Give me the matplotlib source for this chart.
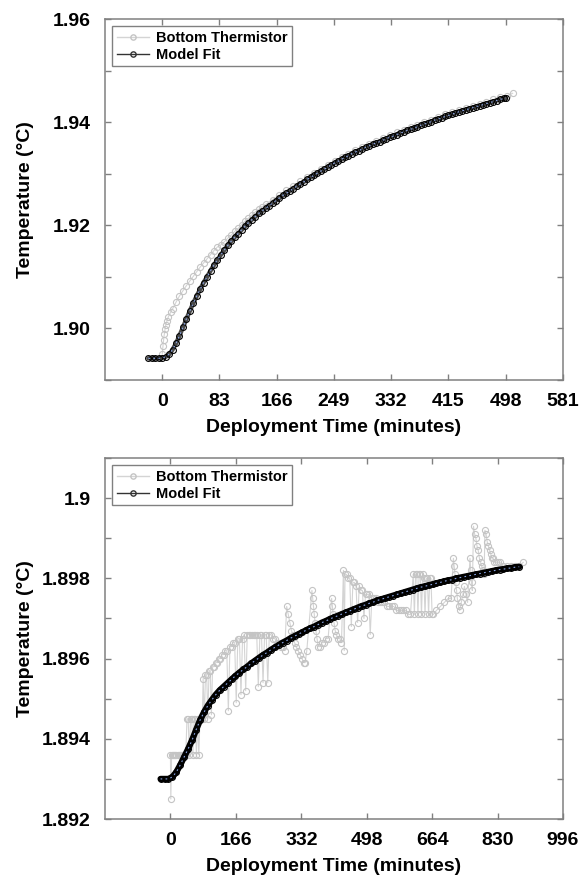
import matplotlib.pyplot as plt
from matplotlib.lines import Line2D
from matplotlib.ticker import FixedLocator, FixedFormatter, MultipleLocator

plt.rcParams['font.family'] = ['Liberation Sans', 'DejaVu Sans']
plt.rcParams['font.weight'] = 'bold'
plt.rcParams['axes.labelweight'] = 'bold'

# upper run: thermistor readings and fitted decay
top_therm_t = [0, 1, 2, 3, 4, 5, 7, 9, 12, 15, 20, 25, 30, 35, 40, 45, 50, 55, 60, 65, 70, 75, 80, 85,
               90, 95, 100, 105, 110, 115, 120, 125, 130, 135, 140, 145, 150, 160, 170, 180, 190, 200,
               210, 220, 230, 240, 250, 260, 270, 280, 290, 300, 310, 320, 330, 340, 350, 360, 370,
               380, 390, 400, 410, 420, 430, 440, 450, 460, 470, 480, 490, 500, 508]
top_therm_T = [1.8950, 1.8965, 1.8978, 1.8989, 1.8998, 1.9006, 1.9015, 1.9023, 1.9031, 1.9038, 1.9051,
               1.9063, 1.9073, 1.9083, 1.9092, 1.9101, 1.9110, 1.9119, 1.9127, 1.9135, 1.9143, 1.9151,
               1.9158, 1.9162, 1.9168, 1.9175, 1.9181, 1.9188, 1.9194, 1.9201, 1.9208, 1.9214, 1.9220,
               1.9226, 1.9231, 1.9236, 1.9241, 1.9250, 1.9259, 1.9268, 1.9277, 1.9285, 1.9293, 1.9301,
               1.9309, 1.9317, 1.9325, 1.9332, 1.9339, 1.9346, 1.9352, 1.9358, 1.9364, 1.9369, 1.9375,
               1.9380, 1.9385, 1.9390, 1.9395, 1.9400, 1.9405, 1.9410, 1.9415, 1.9419, 1.9424, 1.9428,
               1.9432, 1.9436, 1.9440, 1.9444, 1.9448, 1.9451, 1.9456]
top_fit_t = [-20, -15, -10, -5, 0, 5, 10, 15, 20, 25, 30, 35, 40, 45, 50, 55, 60, 65, 70, 75, 80, 85,
             90, 95, 100, 105, 110, 115, 120, 125, 130, 135, 140, 145, 150, 155, 160, 165, 170, 175,
             180, 185, 190, 195, 200, 205, 210, 215, 220, 225, 230, 235, 240, 245, 250, 255, 260, 265,
             270, 275, 280, 285, 290, 295, 300, 305, 310, 315, 320, 325, 330, 335, 340, 345, 350, 355,
             360, 365, 370, 375, 380, 385, 390, 395, 400, 405, 410, 415, 420, 425, 430, 435, 440, 445,
             450, 455, 460, 465, 470, 475, 480, 485, 490, 495, 498]
top_fit_T = [1.8942, 1.8942, 1.8942, 1.8942, 1.8943, 1.8945, 1.8950, 1.8959, 1.8971, 1.8986, 1.9002,
             1.9018, 1.9034, 1.9049, 1.9063, 1.9076, 1.9089, 1.9100, 1.9112, 1.9123, 1.9133, 1.9143,
             1.9152, 1.9161, 1.9169, 1.9177, 1.9184, 1.9191, 1.9198, 1.9205, 1.9211, 1.9217, 1.9223,
             1.9228, 1.9233, 1.9238, 1.9243, 1.9248, 1.9253, 1.9258, 1.9262, 1.9267, 1.9271, 1.9276,
             1.9280, 1.9284, 1.9289, 1.9293, 1.9297, 1.9301, 1.9305, 1.9309, 1.9313, 1.9317, 1.9321,
             1.9324, 1.9328, 1.9332, 1.9335, 1.9339, 1.9342, 1.9345, 1.9348, 1.9351, 1.9354, 1.9357,
             1.9360, 1.9362, 1.9365, 1.9368, 1.9371, 1.9373, 1.9376, 1.9379, 1.9381, 1.9384, 1.9386,
             1.9389, 1.9391, 1.9394, 1.9396, 1.9399, 1.9401, 1.9404, 1.9406, 1.9408, 1.9411, 1.9413,
             1.9415, 1.9418, 1.9420, 1.9422, 1.9424, 1.9426, 1.9428, 1.9430, 1.9432, 1.9434, 1.9436,
             1.9438, 1.9440, 1.9442, 1.9444, 1.9446, 1.9447]

# lower run: noisy thermistor record (time, temperature) and fitted decay
bot_therm = [
    (0, 1.8936), (1, 1.8925), (3, 1.8936), (6, 1.8936), (9, 1.8936), (12, 1.8936), (15, 1.8936),
    (18, 1.8936), (21, 1.8936), (24, 1.8936), (27, 1.8936), (30, 1.8936), (33, 1.8936), (36, 1.8936),
    (39, 1.8936), (42, 1.8945), (45, 1.8945), (48, 1.8936), (51, 1.8945), (54, 1.8945), (57, 1.8936),
    (60, 1.8945), (63, 1.8945), (66, 1.8936), (69, 1.8945), (72, 1.8936), (75, 1.8945), (78, 1.8945),
    (81, 1.8945), (83, 1.8955), (86, 1.8945), (89, 1.8956), (92, 1.8956), (95, 1.8945), (98, 1.8957),
    (101, 1.8957), (104, 1.8946), (107, 1.8958), (111, 1.8958), (115, 1.8959), (119, 1.8959),
    (123, 1.8960), (127, 1.8960), (131, 1.8961), (135, 1.8961), (139, 1.8962), (143, 1.8962),
    (147, 1.8947), (151, 1.8963), (155, 1.8963), (159, 1.8964), (163, 1.8964), (167, 1.8949),
    (171, 1.8965), (175, 1.8965), (179, 1.8951), (183, 1.8965), (187, 1.8966), (191, 1.8952),
    (195, 1.8966), (199, 1.8966), (203, 1.8966), (207, 1.8966), (211, 1.8966), (215, 1.8966),
    (219, 1.8966), (223, 1.8953), (227, 1.8966), (231, 1.8966), (235, 1.8954), (239, 1.8966),
    (243, 1.8966), (247, 1.8954), (251, 1.8966), (255, 1.8966), (260, 1.8965), (265, 1.8965),
    (270, 1.8964), (275, 1.8964), (280, 1.8963), (285, 1.8963), (290, 1.8962),
    (295, 1.8973), (299, 1.8971), (303, 1.8969), (307, 1.8967), (311, 1.8966), (315, 1.8964),
    (319, 1.8963), (324, 1.8962), (329, 1.8961), (334, 1.8960), (338, 1.8959), (342, 1.8959),
    (346, 1.8962),
    (359, 1.8977), (361, 1.8975), (363, 1.8973), (365, 1.8971), (367, 1.8969), (369, 1.8967),
    (372, 1.8965), (375, 1.8963), (380, 1.8963), (385, 1.8964), (390, 1.8964), (395, 1.8965),
    (400, 1.8965),
    (409, 1.8975), (411, 1.8973), (413, 1.8971), (415, 1.8969), (418, 1.8967), (421, 1.8966),
    (425, 1.8965), (430, 1.8965), (434, 1.8964),
    (439, 1.8982), (441, 1.8962), (443, 1.8981), (447, 1.8981), (451, 1.8980), (455, 1.8980),
    (459, 1.8968), (463, 1.8979), (467, 1.8979), (471, 1.8978), (475, 1.8969), (479, 1.8978),
    (483, 1.8977), (487, 1.8977), (491, 1.8970), (495, 1.8976), (499, 1.8976), (503, 1.8976),
    (507, 1.8966), (511, 1.8975), (516, 1.8975), (521, 1.8975), (526, 1.8974), (531, 1.8974),
    (537, 1.8974), (543, 1.8974), (549, 1.8973), (555, 1.8973), (561, 1.8973), (567, 1.8973),
    (573, 1.8972), (579, 1.8972), (585, 1.8972), (591, 1.8972), (597, 1.8972), (603, 1.8971),
    (609, 1.8971),
    (616, 1.8981), (619, 1.8971), (622, 1.8981), (625, 1.8981), (628, 1.8971), (631, 1.8981),
    (634, 1.8981), (637, 1.8971), (640, 1.8981), (643, 1.8980), (646, 1.8971), (649, 1.8980),
    (652, 1.8980), (655, 1.8971), (658, 1.8980), (661, 1.8980), (664, 1.8971), (667, 1.8971),
    (675, 1.8972), (685, 1.8973), (695, 1.8974), (705, 1.8975), (712, 1.8975),
    (718, 1.8985), (720, 1.8983), (722, 1.8981), (724, 1.8979), (726, 1.8977), (728, 1.8975),
    (731, 1.8973), (734, 1.8972), (738, 1.8974), (742, 1.8976), (746, 1.8978), (750, 1.8976),
    (754, 1.8974),
    (760, 1.8985), (762, 1.8982), (764, 1.8979), (766, 1.8977),
    (769, 1.8993), (772, 1.8991), (775, 1.8990), (778, 1.8988), (781, 1.8987), (784, 1.8985),
    (787, 1.8984), (790, 1.8983), (793, 1.8982), (796, 1.8981),
    (798, 1.8992), (801, 1.8991), (804, 1.8989), (807, 1.8988), (810, 1.8987), (813, 1.8986),
    (816, 1.8985), (819, 1.8985), (822, 1.8984), (826, 1.8984), (830, 1.8984), (836, 1.8984),
    (845, 1.8983), (855, 1.8983), (865, 1.8983), (875, 1.8983), (885, 1.8983), (895, 1.8984),
]
bot_fit_t = [-25, -15, -5, 5, 15, 25, 35, 45, 55, 65, 75, 85, 95, 105, 115, 125, 135, 145, 155, 165,
             175, 185, 195, 205, 215, 225, 235, 245, 255, 265, 275, 285, 295, 305, 315, 325, 335, 345,
             355, 365, 375, 385, 395, 405, 415, 425, 435, 445, 455, 465, 475, 485, 495, 505, 515, 525,
             535, 545, 555, 565, 575, 585, 595, 605, 615, 625, 635, 645, 655, 665, 675, 685, 695, 705,
             715, 725, 735, 745, 755, 765, 775, 785, 795, 805, 815, 825, 835, 845, 855, 865, 875, 885]
bot_fit_T = [1.89300, 1.89300, 1.89300, 1.89305, 1.89317, 1.89335, 1.89355, 1.89375, 1.89397, 1.89422,
             1.89446, 1.89466, 1.89483, 1.89497, 1.89510, 1.89521, 1.89530, 1.89539, 1.89548, 1.89557,
             1.89565, 1.89573, 1.89580, 1.89588, 1.89595, 1.89602, 1.89609, 1.89615, 1.89622, 1.89628,
             1.89634, 1.89640, 1.89645, 1.89651, 1.89656, 1.89661, 1.89666, 1.89671, 1.89676, 1.89680,
             1.89685, 1.89690, 1.89694, 1.89699, 1.89703, 1.89707, 1.89711, 1.89715, 1.89719, 1.89723,
             1.89727, 1.89731, 1.89734, 1.89738, 1.89741, 1.89745, 1.89748, 1.89751, 1.89754, 1.89757,
             1.89760, 1.89763, 1.89766, 1.89769, 1.89772, 1.89775, 1.89778, 1.89780, 1.89783, 1.89785,
             1.89788, 1.89790, 1.89793, 1.89795, 1.89797, 1.89800, 1.89802, 1.89804, 1.89806, 1.89808,
             1.89810, 1.89812, 1.89814, 1.89816, 1.89818, 1.89820, 1.89822, 1.89823, 1.89825, 1.89826,
             1.89828, 1.89829]

top_xticks = [0, 83, 166, 249, 332, 415, 498, 581]
top_yticks = [1.90, 1.92, 1.94, 1.96]
top_ylabels = ['1.90', '1.92', '1.94', '1.96']
bot_xticks = [0, 166, 332, 498, 664, 830, 996]
bot_yticks = [1.892, 1.894, 1.896, 1.898, 1.900]
bot_ylabels = ['1.892', '1.894', '1.896', '1.898', '1.9']

THERM = '#d4d4d4'
FRAME = '#808080'


def draw_run(ax, therm_t, therm_T, fit_t, fit_T, band, band_color):
    ax.plot(therm_t, therm_T, '-o', color=THERM, lw=0.8, ms=4.4, mfc='none',
            mec='#c4c4c4', mew=0.8, zorder=2)
    # wide line under the fit markers gives the dense band look
    ax.plot(fit_t, fit_T, color=band_color, lw=band, solid_capstyle='round', zorder=3)
    ax.plot(fit_t, fit_T, 'o', ms=4.2, mfc='none', mec='black', mew=0.8, zorder=3)
    ax.plot(fit_t, fit_T, color='#8aa6e6', lw=0.8, ls=(0, (1.5, 3)), zorder=4)


def style_axes(ax, xlim, xticks, ylim, yticks, ylabels, yminor):
    ax.set_xlim(*xlim)
    ax.set_ylim(*ylim)
    ax.xaxis.set_major_locator(FixedLocator(xticks))
    ax.yaxis.set_major_locator(FixedLocator(yticks))
    ax.yaxis.set_major_formatter(FixedFormatter(ylabels))
    ax.yaxis.set_minor_locator(MultipleLocator(yminor))
    for s in ax.spines.values():
        s.set_color(FRAME)
        s.set_linewidth(1.1)
    ax.tick_params(which='both', direction='in', length=4, width=1, color=FRAME,
                   top=True, right=True, labelsize=14)
    ax.tick_params(axis='x', pad=9.5)
    ax.tick_params(axis='y', pad=10.5)
    ax.set_xlabel('Deployment Time (minutes)', fontsize=14, labelpad=6)
    ax.set_ylabel('Temperature (°C)', fontsize=14)
    ax.yaxis.set_label_coords(-0.155, 0.5)

    handles = [
        Line2D([], [], color=THERM, lw=1, marker='o', ms=3.8, mfc='none', mec='#c4c4c4'),
        Line2D([], [], color='#333333', lw=1, marker='o', ms=3.8, mfc='none', mec='#333333'),
    ]
    leg = ax.legend(handles, ['Bottom Thermistor', 'Model Fit'], loc='upper left',
                    prop={'size': 10.5, 'weight': 'bold'}, fancybox=False, framealpha=1,
                    handlelength=2.2, handletextpad=0.5, labelspacing=0.2,
                    borderpad=0.3, borderaxespad=0.5)
    leg.get_frame().set_edgecolor(FRAME)
    leg.get_frame().set_linewidth(1)


fig = plt.figure(figsize=(5.82, 8.77), dpi=100)
ax1 = fig.add_axes([0.1804, 0.5667, 0.7869, 0.4116])
ax2 = fig.add_axes([0.1804, 0.0661, 0.7869, 0.4116])

draw_run(ax1, top_therm_t, top_therm_T, top_fit_t, top_fit_T, band=3.2, band_color='#4a4a4a')
style_axes(ax1, (-83, 581), top_xticks, (1.89, 1.96), top_yticks, top_ylabels, 0.01)

bot_therm_t = [p[0] for p in bot_therm]
bot_therm_T = [p[1] for p in bot_therm]
draw_run(ax2, bot_therm_t, bot_therm_T, bot_fit_t, bot_fit_T, band=4.5, band_color='black')
style_axes(ax2, (-166, 996), bot_xticks, (1.892, 1.901), bot_yticks, bot_ylabels, 0.001)

fig.savefig('out.png', dpi=100)
